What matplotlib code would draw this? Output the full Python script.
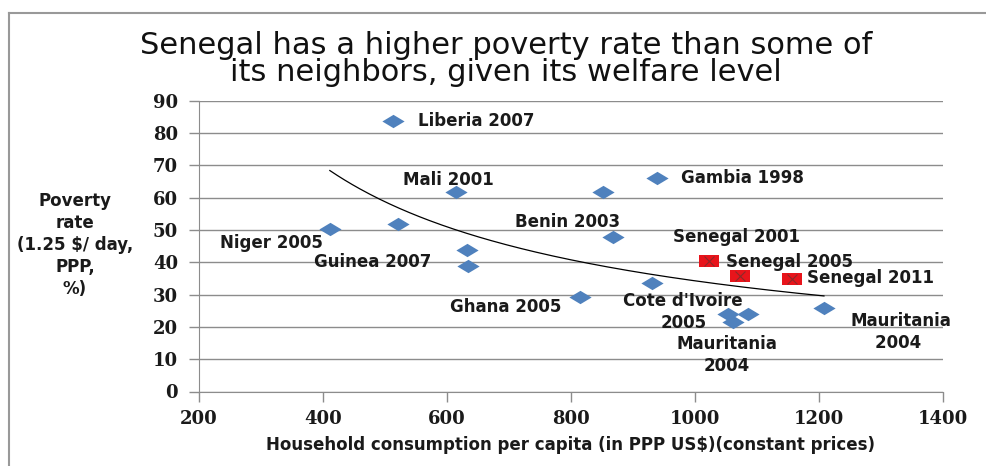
import numpy as np
import matplotlib.pyplot as plt
from matplotlib.path import Path
from matplotlib.lines import Line2D

# other countries
countries = ['Liberia 2007', 'Niger 2005', '', 'Mali 2001', 'Guinea 2007a', 'Guinea 2007',
             'Ghana 2005', '', 'Gambia 1998', 'Benin 2003', "Cote d'Ivoire\n2005",
             'Mauritania a', 'Mauritania b', 'Mauritania\n2004', 'Mauritania\n2004 ']
cons = [513, 411, 521, 615, 632, 634, 815, 852, 939, 868, 931, 1053, 1085, 1061, 1208]
pov = [83.7, 50.3, 51.8, 61.8, 43.8, 38.9, 29.3, 61.8, 66.1, 47.8, 33.6, 24.0, 24.0, 21.5, 25.8]

# senegal
sen_labels = ['Senegal 2001', 'Senegal 2005', 'Senegal 2011']
sen_cons = [1023, 1073, 1156]
sen_pov = [40.4, 35.8, 34.8]

# label offsets in pixels (dx, dy, ha)
offsets = {
    'Liberia 2007': (25, 0, 'left'),
    'Niger 2005': (-58, -14, 'center'),
    'Mali 2001': (-8, 12, 'center'),
    'Guinea 2007': (-95, 4, 'center'),
    'Ghana 2005': (-75, -10, 'center'),
    'Gambia 1998': (24, 0, 'left'),
    'Benin 2003': (-46, 15, 'center'),
    "Cote d'Ivoire\n2005": (31, -29, 'center'),
    'Mauritania\n2004': (-6, -33, 'center'),
    'Mauritania\n2004 ': (77, -24, 'center'),
    'Senegal 2001': (27, 24, 'center'),
    'Senegal 2005': (49, 14, 'center'),
    'Senegal 2011': (15, 1, 'left'),
}

blue = '#4F81BD'
grid_c = '#8C8C8C'
lab_font = dict(family='DejaVu Sans', weight='bold', size=12, color='#1a1a1a')

fig = plt.figure(figsize=(9.87, 4.66), dpi=100)
ax = fig.add_axes([199 / 987, 1 - 391.5 / 466, 744 / 987, 290.8 / 466])

# wide diamond marker
diamond = Path([(-1, 0), (0, 0.6), (1, 0), (0, -0.6), (-1, 0)],
               [Path.MOVETO, Path.LINETO, Path.LINETO, Path.LINETO, Path.CLOSEPOLY])
rect = Path([(-1, -0.62), (1, -0.62), (1, 0.62), (-1, 0.62), (-1, -0.62)],
            [Path.MOVETO, Path.LINETO, Path.LINETO, Path.LINETO, Path.CLOSEPOLY])

ax.plot(cons, pov, linestyle='none', marker=diamond, markersize=16,
        color=blue, markeredgewidth=0, zorder=3)
ax.plot(sen_cons, sen_pov, linestyle='none', marker=rect, markersize=14,
        color='#E8141B', markeredgewidth=0, zorder=3)
ax.plot(sen_cons, sen_pov, linestyle='none', marker='x', markersize=7,
        color='#8a2a2a', markeredgewidth=0.8, zorder=4)

# power trend fitted on all points
all_x = np.array(cons + sen_cons, dtype=float)
all_y = np.array(pov + sen_pov, dtype=float)
b, loga = np.polyfit(np.log(all_x), np.log(all_y), 1)
xs = np.linspace(all_x.min(), all_x.max(), 200)
ax.plot(xs, np.exp(loga) * xs ** b, color='black', linewidth=0.9, zorder=2)

for name, x, y in list(zip(countries, cons, pov)) + list(zip(sen_labels, sen_cons, sen_pov)):
    if name in offsets:
        dx, dy, ha = offsets[name]
        ax.annotate(name, (x, y), xytext=(dx, dy), textcoords='offset pixels',
                    ha=ha, va='center', linespacing=1.25, zorder=5, **lab_font)

ax.set_xlim(200, 1400)
ax.set_ylim(0, 90)
ax.set_xticks(range(200, 1401, 200))
ax.set_yticks(range(0, 91, 10))
ax.grid(axis='y', color=grid_c, linewidth=1)
ax.set_axisbelow(True)
for s in ['top', 'right']:
    ax.spines[s].set_visible(False)
for s in ['left', 'bottom']:
    ax.spines[s].set_color(grid_c)
ax.tick_params(axis='both', colors=grid_c, length=7, width=1)
ax.tick_params(axis='y', pad=8)
ax.tick_params(axis='x', pad=6)
for t in ax.get_xticklabels() + ax.get_yticklabels():
    t.set_fontfamily('DejaVu Serif')
    t.set_fontweight('bold')
    t.set_fontsize(13)
    t.set_color('#1a1a1a')

ax.set_xlabel('Household consumption per capita (in PPP US$)(constant prices)',
              labelpad=6, **lab_font)
fig.text(75 / 987, 1 - 245 / 466, 'Poverty\nrate\n(1.25 $/ day,\nPPP,\n%)',
         ha='center', va='center', linespacing=1.3, **lab_font)

fig.text(506 / 987, 1 - 59 / 466,
         'Senegal has a higher poverty rate than some of\nits neighbors, given its welfare level',
         ha='center', va='center', family='DejaVu Sans', size=22, color='#111111',
         linespacing=0.95)

# outer frame (left and top edges visible)
fig.add_artist(Line2D([9 / 987, 9 / 987], [0, 1 - 13 / 466], color='#999999', linewidth=1.5))
fig.add_artist(Line2D([9 / 987, 1], [1 - 13 / 466, 1 - 13 / 466], color='#999999', linewidth=1.5))

fig.savefig('out.png', dpi=100)
